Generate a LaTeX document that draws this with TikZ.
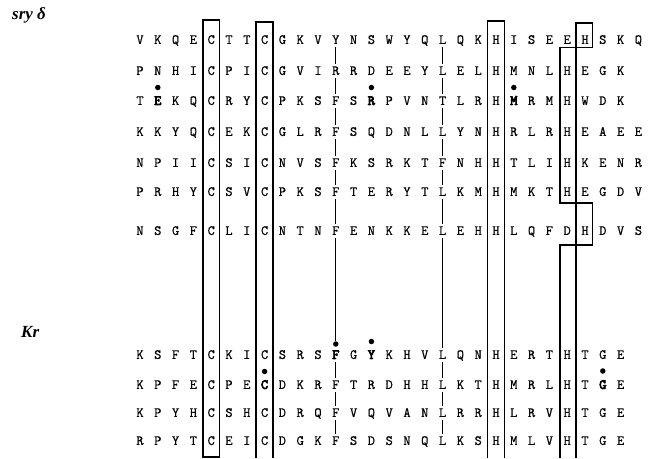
\documentclass[tikz,border=0pt]{standalone}
\usepackage{fontspec}
\setmainfont{Liberation Serif}
\newfontfamily\seqfont{Latin Modern Mono}[FakeBold=0.7]
\newfontfamily\seqboldfont{Latin Modern Mono}[FakeBold=5]
\newcommand\hl[1]{{\seqboldfont #1}}
\tikzset{
  seq/.style={inner sep=0pt, text height=7.8pt, text depth=0pt, font=\seqfont\fontsize{14}{14}\selectfont},
  ttl/.style={anchor=west, inner sep=0pt, font=\bfseries\itshape\fontsize{17}{17}\selectfont},
  dotm/.style={circle, fill=black, inner sep=0pt, minimum size=5.5pt},
  vline/.style={line width=1.1pt, shorten >=3pt, shorten <=3pt},
  boxl/.style={line width=1.5pt},
}
\begin{document}
\begin{tikzpicture}[x=1pt,y=-1pt]
\useasboundingbox (0,0) rectangle (655,458);
\node[ttl] (t1) at (12,15) {sry δ};
\node[ttl] (t2) at (21,332) {Kr};
\foreach \yy/\sq [count=\r] in {
 40/{V,K,Q,E,C,T,T,C,G,K,V,Y,N,S,W,Y,Q,L,Q,K,H,I,S,E,E,H,S,K,Q},
 71/{P,N,H,I,C,P,I,C,G,V,I,R,R,D,E,E,Y,L,E,L,H,M,N,L,H,E,G,K},
 101/{T,\hl{E},K,Q,C,R,Y,C,P,K,S,F,S,\hl{R},P,V,N,T,L,R,H,\hl{M},R,M,H,W,D,K},
 132/{K,K,Y,Q,C,E,K,C,G,L,R,F,S,Q,D,N,L,L,Y,N,H,R,L,R,H,E,A,E,E},
 163/{N,P,I,I,C,S,I,C,N,V,S,F,K,S,R,K,T,F,N,H,H,T,L,I,H,K,E,N,R},
 192/{P,R,H,Y,C,S,V,C,P,K,S,F,T,E,R,Y,T,L,K,M,H,M,K,T,H,E,G,D,V},
 231/{N,S,G,F,C,L,I,C,N,T,N,F,E,N,K,K,E,L,E,H,H,L,Q,F,D,H,D,V,S},
 355/{K,S,F,T,C,K,I,C,S,R,S,\hl{F},G,\hl{Y},K,H,V,L,Q,N,H,E,R,T,H,T,G,E},
 385/{K,P,F,E,C,P,E,\hl{C},D,K,R,F,T,R,D,H,H,L,K,T,H,M,R,L,H,T,\hl{G},E},
 413/{K,P,Y,H,C,S,H,C,D,R,Q,F,V,Q,V,A,N,L,R,R,H,L,R,V,H,T,G,E},
 441/{R,P,Y,T,C,E,I,C,D,G,K,F,S,D,S,N,Q,L,K,S,H,M,L,V,H,T,G,E}} {
  \foreach \l [count=\c] in \sq {
    \node[seq] (r\r-\c) at ({140+(\c-1)*17.8},\yy) {\l};
  }
}
% dots over marked residues
\node[dotm] (d1) at ([yshift=13.5pt]r3-2.center) {};
\node[dotm] (d2) at ([yshift=13.5pt]r3-14.center) {};
\node[dotm] (d3) at ([yshift=13.5pt]r3-22.center) {};
\node[dotm] (d4) at ([yshift=11pt]r8-12.center) {};
\node[dotm] (d5) at ([yshift=13.5pt]r8-14.center) {};
\node[dotm] (d6) at ([yshift=13.5pt]r9-8.center) {};
\node[dotm] (d7) at ([yshift=14pt]r9-27.center) {};
% vertical connectors
\foreach \a/\b in {1/2,2/3,3/4,4/5,5/6,6/7,8/9,9/10,10/11} {
  \draw[vline] (r\a-12) -- (r\b-12);
}
\draw[vline, shorten >=0pt] (r7-12) -- (d4);
\foreach \a/\b in {1/2,2/3,3/4,4/5,5/6,6/7,7/8,8/9,9/10,10/11} {
  \draw[vline] (r\a-18) -- (r\b-18);
}
% conserved boxes
\draw[boxl] (202.8,457) -- (202.8,20) -- (219.6,20) -- (219.6,457) -- cycle;
\draw[boxl] (256.2,458) -- (256.2,22) -- (273,22) -- (273,458);
\draw[boxl] (487.6,458) -- (487.6,21) -- (504.4,21) -- (504.4,458);
\draw[boxl] (576.1,23) rectangle (592.5,47.5);
\draw[boxl] (576.1,23) -- (576.1,458);
\draw[boxl] (576.1,47.5) -- (560,47.5) -- (560,203) -- (592.5,203) -- (592.5,245) -- (560,245) -- (560,458);
\end{tikzpicture}
\end{document}
